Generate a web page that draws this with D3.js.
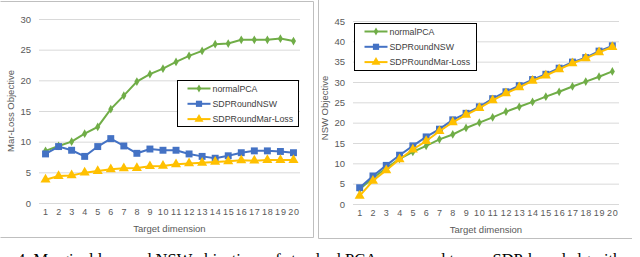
<html>
<head>
<meta charset="utf-8">
<script src="https://d3js.org/d3.v7.min.js"></script>
<style>
  body { margin: 0; background: #fff; }
  svg { display: block; }
</style>
</head>
<body>
<svg id="chart" width="640" height="257"></svg>
<script>
// target dimension 1..20
let dims = d3.range(1, 21)
let seriesNames = ["normalPCA", "SDPRoundNSW", "SDPRoundMar-Loss"]

// left panel: marginal loss objective
let lossPCA = [8.5, 9.3, 10.0, 11.3, 12.4, 15.3, 17.5, 19.8, 21.0, 21.9, 23.0, 24.0, 24.8, 25.9, 26.0, 26.6, 26.6, 26.6, 26.8, 26.4]
let lossNSW = [8.0, 9.2, 8.6, 7.6, 9.2, 10.5, 9.3, 8.1, 8.8, 8.6, 8.6, 8.0, 7.6, 7.3, 7.7, 8.2, 8.5, 8.5, 8.4, 8.2]
let lossMar = [3.8, 4.4, 4.5, 4.95, 5.2, 5.5, 5.65, 5.7, 6.0, 6.05, 6.3, 6.45, 6.55, 6.7, 6.8, 6.95, 6.9, 7.0, 7.0, 7.0]
let lossTicks = [0, 5, 10, 15, 20, 25, 30]

// right panel: NSW objective
let nswPCA = [3.6, 6.4, 8.8, 11.1, 12.8, 14.3, 15.9, 17.1, 18.7, 20.0, 21.3, 22.7, 23.9, 25.1, 26.4, 27.6, 28.9, 30.1, 31.3, 32.6]
let nswNSW = [4.0, 6.9, 9.5, 12.0, 14.3, 16.5, 18.4, 20.7, 22.3, 23.9, 25.9, 27.6, 29.1, 30.6, 31.9, 33.4, 34.9, 36.0, 37.6, 38.9]
let nswMar = [2.0, 5.7, 8.3, 11.0, 13.4, 15.5, 17.9, 20.1, 21.9, 23.6, 25.5, 27.2, 28.7, 30.3, 31.6, 33.1, 34.6, 35.8, 37.3, 38.6]
let nswTicks = [0, 5, 10, 15, 20, 25, 30, 35, 40, 45]

let colors = ["#70AD47", "#4472C4", "#FFC000"]
let shapes = [d3.symbolDiamond, d3.symbolSquare, d3.symbolTriangle]
let sizes = [22, 48, 44]
let textColor = "#595959"
let font = "Liberation Sans, Arial, sans-serif"

let svg = d3.select("#chart")

function panel(o) {
    let g = svg.append("g")

    // frame
    g.append("path")
        .attr("d", o.frame)
        .attr("fill", "none")
        .attr("stroke", "#bfbfbf")
        .attr("stroke-width", 1)

    let x = d3.scalePoint().domain(dims).range([o.left, o.right]).padding(0.5)
    let y = d3.scaleLinear().domain([0, d3.max(o.ticks)]).range([o.bottom, o.top])

    // gridlines
    g.append("g").selectAll("line")
        .data(o.ticks)
        .enter().append("line")
        .attr("x1", o.left).attr("x2", o.right)
        .attr("y1", d => y(d) + 0.5).attr("y2", d => y(d) + 0.5)
        .attr("stroke", "#d9d9d9")

    // y axis
    let yAxis = g.append("g")
        .attr("transform", `translate(${o.left - 8},0)`)
        .call(d3.axisLeft(y).tickValues(o.ticks).tickSize(0).tickPadding(0))
    yAxis.select(".domain").remove()
    yAxis.selectAll("text")
        .attr("fill", textColor)
        .style("font", `9.5px ${font}`)

    // x axis
    let xAxis = g.append("g")
        .attr("transform", `translate(0,${o.bottom + 6})`)
        .call(d3.axisBottom(x).tickSize(0).tickPadding(0))
    xAxis.select(".domain").remove()
    xAxis.selectAll("text")
        .attr("fill", textColor)
        .style("font", `9px ${font}`)
        .style("letter-spacing", "0.8px")

    g.append("text")
        .attr("x", (o.left + o.right) / 2)
        .attr("y", o.bottom + 29)
        .attr("text-anchor", "middle")
        .attr("fill", textColor)
        .style("font", `9.5px ${font}`)
        .text("Target dimension")

    g.append("text")
        .attr("transform", `translate(${o.ylabX},${o.ylabY}) rotate(-90)`)
        .attr("text-anchor", "middle")
        .attr("fill", textColor)
        .style("font", `9.5px ${font}`)
        .text(o.ylabel)

    // series
    let line = d3.line().x((d, i) => x(dims[i])).y(d => y(d))
    o.series.forEach((s, k) => {
        g.append("path")
            .datum(s)
            .attr("d", line)
            .attr("fill", "none")
            .attr("stroke", colors[k])
            .attr("stroke-width", 2)
        g.append("g").selectAll("path")
            .data(s)
            .enter().append("path")
            .attr("transform", (d, i) => `translate(${x(dims[i])},${y(d)})`)
            .attr("d", d3.symbol().type(shapes[k]).size(sizes[k]))
            .attr("fill", colors[k])
    })

    // legend
    let lg = g.append("g").attr("transform", `translate(${o.legX},${o.legY})`)
    lg.append("rect")
        .attr("width", o.legW).attr("height", o.legH)
        .attr("fill", "#fff")
        .attr("stroke", "#000")
        .attr("stroke-width", 1)
    seriesNames.forEach((n, k) => {
        let yy = 8 + k * 15.3
        lg.append("line")
            .attr("x1", 10).attr("x2", 33)
            .attr("y1", yy).attr("y2", yy)
            .attr("stroke", colors[k]).attr("stroke-width", 2)
        lg.append("path")
            .attr("transform", `translate(21.5,${yy})`)
            .attr("d", d3.symbol().type(shapes[k]).size(sizes[k] * 0.8))
            .attr("fill", colors[k])
        lg.append("text")
            .attr("x", 35).attr("y", yy)
            .attr("dy", "0.35em")
            .attr("fill", "#404040")
            .style("font", `8.8px ${font}`)
            .text(n)
    })
}

panel({
    frame: "M0.5,1.5H313.5V237.5H0.5",
    left: 39, right: 300, top: 19, bottom: 203,
    ticks: lossTicks,
    series: [lossPCA, lossNSW, lossMar],
    ylabel: "Mar-Loss Objective", ylabX: 14, ylabY: 111,
    legX: 177.5, legY: 80.5, legW: 121, legH: 46
})

panel({
    frame: "M318.5,0V238.5H632",
    left: 353, right: 619, top: 21, bottom: 204,
    ticks: nswTicks,
    series: [nswPCA, nswNSW, nswMar],
    ylabel: "NSW Objective", ylabX: 328, ylabY: 108,
    legX: 354.5, legY: 23.5, legW: 122, legH: 47
})

// caption, cut by the window edge as in the source page
svg.append("text")
    .attr("x", 17)
    .attr("y", 265)
    .attr("fill", "#000")
    .style("font", "16.5px Liberation Serif, Times New Roman, serif")
    .text("4. Marginal loss and NSW objectives of standard PCA compared to our SDP-based algorithm with")
</script>
</body>
</html>
